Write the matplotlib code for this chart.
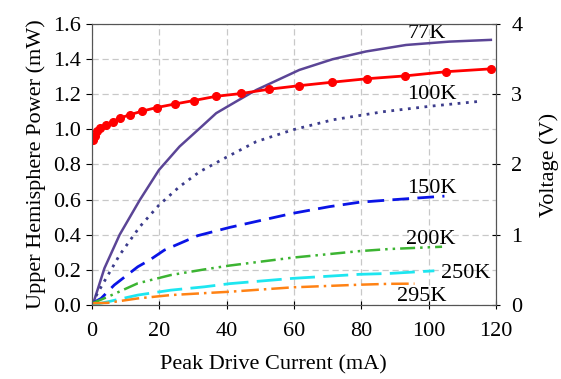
import matplotlib
matplotlib.use('Agg')
import matplotlib.pyplot as plt

plt.rcParams['font.family'] = ['Liberation Serif', 'DejaVu Serif']
plt.rcParams['font.size'] = 15

# temperature series: current (mA) vs upper hemisphere power (mW)
i_77 = [0, 0.7, 3.7, 8.2, 14.2, 19.9, 26, 32, 36.9, 42.8, 48.8, 61.6, 71.5, 81.4, 93.3, 106.1, 118.5]
p_77 = [0.01, 0.03, 0.21, 0.40, 0.598, 0.769, 0.902, 1.006, 1.092, 1.158, 1.224, 1.338, 1.399, 1.443, 1.48, 1.499, 1.509]

i_100 = [0, 2, 8.2, 14.2, 19.9, 26, 32, 39.9, 48.8, 59.6, 71.5, 86.4, 101.2, 114.5]
p_100 = [0.01, 0.08, 0.285, 0.446, 0.569, 0.674, 0.759, 0.841, 0.93, 0.997, 1.054, 1.10, 1.133, 1.158]

i_150 = [0, 2.7, 6.6, 13.6, 17.1, 21.5, 31.4, 40.9, 50.7, 59.6, 70.5, 79.4, 88.3, 104.7]
p_150 = [0.01, 0.038, 0.114, 0.218, 0.256, 0.313, 0.395, 0.442, 0.484, 0.522, 0.56, 0.585, 0.598, 0.62]

i_200 = [0, 4.7, 13.6, 23.4, 33.4, 40.9, 59.6, 79.4, 88.3, 104]
p_200 = [0.01, 0.047, 0.124, 0.171, 0.203, 0.225, 0.27, 0.307, 0.319, 0.332]

i_250 = [0, 4.7, 13.6, 23.4, 33.4, 40.9, 59.6, 79.4, 88.3, 101.7]
p_250 = [0.0, 0.019, 0.057, 0.085, 0.104, 0.122, 0.152, 0.175, 0.18, 0.195]

i_295 = [0, 4.7, 13.6, 23.4, 33.4, 40.9, 59.6, 79.4, 88.3, 95.8]
p_295 = [0.01, 0.013, 0.038, 0.057, 0.068, 0.076, 0.101, 0.116, 0.121, 0.122]

# forward voltage (V)
i_v = [0.4, 0.9, 1.5, 2.3, 4.1, 6.1, 8.3, 11.4, 15.0, 19.2, 24.6, 30.3, 36.9,
       44.4, 52.5, 61.4, 71.3, 81.7, 93.0, 105.3, 118.4]
volt = [2.35, 2.40, 2.47, 2.52, 2.56, 2.61, 2.66, 2.71, 2.76, 2.81, 2.86, 2.91, 2.97,
        3.01, 3.07, 3.12, 3.17, 3.22, 3.26, 3.32, 3.36]

labels = ['77K', '100K', '150K', '200K', '250K', '295K']
label_xy = [(99.3, 1.547), (101, 1.196), (101, 0.665), (100.7, 0.374), (111, 0.177), (98, 0.051)]

fig = plt.figure(figsize=(5.61, 3.79), dpi=100)
ax = fig.add_axes([0.164, 0.195, 0.72, 0.742])

ax.plot(i_77, p_77, color='#5b4596', lw=1.8, ls='-')
ax.plot(i_100, p_100, color='#3c3c8c', lw=2.0, ls=(0, (1, 2)))
ax.plot(i_150, p_150, color='#0a14e6', lw=2.0, ls=(0, (6, 3)))
ax.plot(i_200, p_200, color='#3cb432', lw=1.8, ls=(0, (6, 2, 1, 2, 1, 2)))
ax.plot(i_250, p_250, color='#1ee6f0', lw=2.0, ls=(0, (9, 3)))
ax.plot(i_295, p_295, color='#ff8214', lw=1.8, ls=(0, (7, 2, 1, 2)))

for lab, (x, y) in zip(labels, label_xy):
    ax.text(x, y, lab, ha='center', va='center', fontsize=16)

ax.set_xlim(0, 120)
ax.set_ylim(0, 1.6)
ax.set_xticks(range(0, 121, 20))
ax.set_yticks([0, 0.2, 0.4, 0.6, 0.8, 1.0, 1.2, 1.4, 1.6])
ax.set_yticklabels(['%.1f' % v for v in ax.get_yticks()])
ax.grid(True, color='#c8c8c8', ls=(0, (5, 3)), lw=0.9)
ax.set_axisbelow(True)
ax.set_xlabel('Peak Drive Current (mA)', fontsize=16)
ax.xaxis.set_label_coords(0.45, -0.18)
ax.set_ylabel('Upper Hemisphere Power (mW)', fontsize=16, labelpad=5)
ax.tick_params(axis='x', direction='inout', length=6, pad=9, labelsize=16)
ax.tick_params(axis='y', direction='out', length=4, pad=4, labelsize=16)
for s in ax.spines.values():
    s.set_color('#555555')

ax2 = ax.twinx()
ax2.plot(i_v, volt, color='#ff0000', lw=2.0, marker='o', ms=5.5)
ax2.set_ylim(0, 4)
ax2.set_yticks([0, 1, 2, 3, 4])
ax2.set_ylabel('Voltage (V)', fontsize=16, labelpad=12)
ax2.tick_params(axis='y', direction='inout', length=6, pad=8, labelsize=16)
for s in ax2.spines.values():
    s.set_color('#555555')

fig.savefig('out.png', dpi=100)
